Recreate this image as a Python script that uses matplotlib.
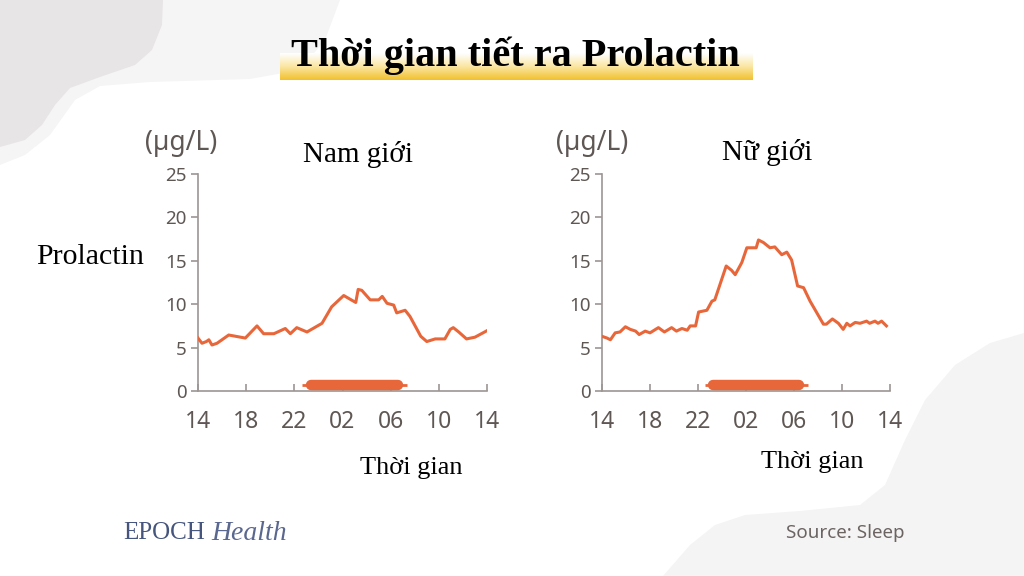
import numpy as np
import matplotlib
matplotlib.use("Agg")
import matplotlib.pyplot as plt
from matplotlib.patches import Polygon
from matplotlib.colors import LinearSegmentedColormap

# ---------------- data ----------------
# hours elapsed since 14:00
male_hours = [0, 0.33, 0.7, 0.9, 1.16, 1.58, 2.55, 3.93, 4.9, 5.45, 6.3, 7.25, 7.67, 8.2, 9.05,
              10.3, 11.1, 12.1, 13.1, 13.3, 13.6, 14.3, 15.0, 15.3, 15.7, 16.25, 16.5, 17.2,
              17.6, 18.5, 19.0, 19.7, 20.5, 20.95, 21.2, 21.65, 22.3, 23.0, 24.0]
male_values = [6.1, 5.5, 5.7, 5.9, 5.3, 5.5, 6.45, 6.1, 7.5, 6.6, 6.6, 7.2, 6.6, 7.3, 6.8,
               7.8, 9.7, 11.0, 10.2, 11.7, 11.6, 10.5, 10.5, 10.9, 10.1, 9.9, 9.0, 9.3,
               8.6, 6.3, 5.7, 6.0, 6.0, 7.1, 7.3, 6.8, 6.0, 6.2, 6.95]

female_hours = [0, 0.42, 0.7, 1.1, 1.5, 1.95, 2.36, 2.8, 3.1, 3.6, 4.0, 4.7, 5.2, 5.8, 6.2,
                6.66, 7.1, 7.35, 7.8, 8.05, 8.74, 9.16, 9.4, 10.35, 10.8, 11.1, 11.65, 12.07,
                12.5, 12.85, 13.04, 13.46, 14.0, 14.4, 14.98, 15.4, 15.8, 16.3, 16.8, 17.34,
                18.45, 18.7, 19.2, 19.7, 20.1, 20.4, 20.67, 21.1, 21.5, 22.05, 22.3, 22.75,
                23.0, 23.3, 23.7]
female_values = [6.3, 6.1, 5.9, 6.7, 6.8, 7.4, 7.1, 6.9, 6.5, 6.9, 6.7, 7.3, 6.8, 7.3, 6.9,
                 7.2, 7.0, 7.5, 7.5, 9.1, 9.3, 10.35, 10.5, 14.4, 13.9, 13.4, 14.8, 16.5,
                 16.5, 16.5, 17.4, 17.1, 16.5, 16.6, 15.7, 16.0, 15.1, 12.1, 11.9, 10.35,
                 7.7, 7.7, 8.3, 7.8, 7.1, 7.8, 7.5, 7.9, 7.8, 8.05, 7.8, 8.05,
                 7.8, 8.05, 7.5]

male_sleep = [9.0, 17.0]      # 23:00 -> 07:00
female_sleep = [8.9, 16.8]

x_ticks = [0, 4, 8, 12, 16, 20, 24]
x_tick_labels = ["14", "18", "22", "02", "06", "10", "14"]
y_ticks = [0, 5, 10, 15, 20, 25]

title = "Thời gian tiết ra Prolactin"
panel_titles = ["Nam giới", "Nữ giới"]

# ---------------- style ----------------
W, H = 1024, 576
fig = plt.figure(figsize=(W / 100, H / 100), dpi=100)
fig.patch.set_facecolor("white")

ORANGE = "#e8673a"
AXIS = "#9c9694"
TICKTXT = "#5f5754"
SERIF = ["Liberation Serif", "DejaVu Serif"]
SANS = ["Noto Sans", "DejaVu Sans"]

# background decoration axes in pixel coordinates
bg = fig.add_axes([0, 0, 1, 1], zorder=0)
bg.set_xlim(0, W)
bg.set_ylim(H, 0)
bg.axis("off")

def poly(pts, color, z):
    bg.add_patch(Polygon(pts, closed=True, facecolor=color, edgecolor="none", zorder=z))

light_band = [(0, 0), (340, 0), (325, 40), (300, 70), (250, 79), (150, 82), (100, 86),
              (75, 100), (50, 135), (25, 155), (0, 165)]
poly(light_band, "#f6f5f5", 1)
dark_blob = [(0, 0), (163, 0), (162, 25), (152, 50), (135, 65), (100, 77), (70, 88), (55, 105),
             (42, 125), (25, 140), (0, 147)]
poly(dark_blob, "#e7e5e6", 2)
br = [(663, 576), (690, 545), (715, 525), (745, 515), (800, 511), (860, 505), (885, 485),
      (905, 440), (925, 400), (955, 365), (990, 343), (1024, 333), (1024, 576)]
poly(br, "#f5f4f4", 1)

# title highlight gradient
grad = np.linspace(0, 1, 64).reshape(-1, 1)
cmap = LinearSegmentedColormap.from_list("g", ["#ffffff", "#fbe6a2", "#f2c130"])
bg.imshow(grad, cmap=cmap, extent=(280, 753, 80, 53), aspect="auto", zorder=3)
bg.text(515, 56, title, ha="center", va="center", fontsize=29, fontweight="bold",
        family=SERIF, color="black", zorder=4)

def panel(rect, hours, values, sleep, ptitle, unit_xy, title_xy):
    ax = fig.add_axes(rect, zorder=2)
    ax.patch.set_alpha(0)
    ax.plot(hours, values, color=ORANGE, lw=2.2, solid_joinstyle="round", zorder=3)
    ax.plot([sleep[0] - 0.35, sleep[1] + 0.35], [0.7, 0.7], color=ORANGE, lw=2.0,
            solid_capstyle="butt", zorder=3)
    ax.plot([sleep[0] + 0.35, sleep[1] - 0.35], [0.7, 0.7], color=ORANGE, lw=7.5,
            solid_capstyle="round", zorder=3)
    ax.set_xlim(0, 24)
    ax.set_ylim(0, 25)
    for s in ["top", "right"]:
        ax.spines[s].set_visible(False)
    for s in ["left", "bottom"]:
        ax.spines[s].set_color(AXIS)
        ax.spines[s].set_linewidth(1.2)
    ax.set_xticks(x_ticks)
    ax.set_xticklabels(x_tick_labels)
    ax.set_yticks(y_ticks)
    ax.tick_params(axis="x", direction="in", length=5, width=1.2, color=AXIS,
                   labelsize=16.5, labelcolor=TICKTXT, pad=14)
    ax.tick_params(axis="y", direction="out", length=5, width=1.2, color=AXIS,
                   labelsize=13.5, labelcolor=TICKTXT, pad=3)
    for lab in ax.get_xticklabels() + ax.get_yticklabels():
        lab.set_family(SANS)
    bg.text(unit_xy[0], unit_xy[1], "(µg/L)", ha="center", va="center", fontsize=19,
            family=SANS, color=TICKTXT, zorder=4)
    bg.text(title_xy[0], title_xy[1], ptitle, ha="center", va="center", fontsize=21,
            family=SERIF, color="black", zorder=4)
    return ax

def rect_px(x0, x1, y_top, y_bot):
    return [x0 / W, 1 - y_bot / H, (x1 - x0) / W, (y_bot - y_top) / H]

panel(rect_px(198, 487, 174, 391), male_hours, male_values, male_sleep, panel_titles[0],
      (181, 143), (358, 155))
panel(rect_px(602, 890, 174, 391), female_hours, female_values, female_sleep, panel_titles[1],
      (592, 143), (767, 153))

bg.text(36, 257, "Prolactin", ha="left", va="center", fontsize=21.5, family=SERIF,
        color="black", zorder=4)
bg.text(411, 468, "Thời gian", ha="center", va="center", fontsize=19, family=SERIF,
        color="black", zorder=4)
bg.text(812, 462, "Thời gian", ha="center", va="center", fontsize=19, family=SERIF,
        color="black", zorder=4)

bg.text(123, 533, "EPOCH", ha="left", va="center", fontsize=18, family=SERIF,
        color="#45557d", zorder=4)
bg.text(211, 533, "Health", ha="left", va="center", fontsize=20, family=SERIF,
        style="italic", color="#5a6890", zorder=4)
bg.text(786, 533, "Source: Sleep", ha="left", va="center", fontsize=13.5, family=SANS,
        color="#6b6462", zorder=4)

fig.savefig("out.png", dpi=100)
